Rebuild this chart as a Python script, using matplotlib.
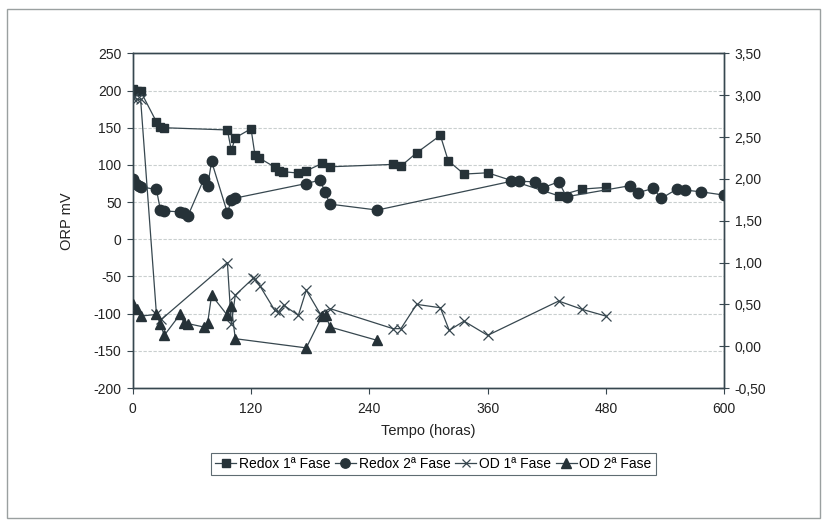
import matplotlib
matplotlib.use("Agg")
import matplotlib.pyplot as plt
from matplotlib.ticker import FuncFormatter
from matplotlib.patches import Rectangle

# ---- data ----
r1_t = [0, 4, 8, 24, 28, 32, 96, 100, 104, 120, 124, 128, 144, 148, 152, 168, 176, 192, 200,
        264, 272, 288, 312, 320, 336, 360, 432, 456, 480]
r1_v = [202, 200, 199, 158, 150.5, 150, 147, 119.5, 136.5, 148.6, 113, 109.6, 97, 92, 91, 89, 92, 102, 97.5,
        100.7, 98.4, 116.3, 139.7, 105.6, 87.7, 89.4, 58.5, 67.5, 69.8]

r2_t = [0, 3, 6, 8, 24, 28, 32, 48, 52, 56, 72, 76, 80, 96, 100, 104, 176, 190, 195, 200, 248,
        384, 392, 408, 416, 432, 440, 504, 512, 528, 536, 552, 560, 576, 600]
r2_v = [80.5, 73.8, 71.5, 70.6, 67, 40, 38, 37, 35.6, 31.6, 80.5, 72, 104.7, 35.6, 52.7, 55.4, 75, 79.6, 63.9, 47.3, 39.3,
        78, 78, 77.3, 69.3, 77.3, 57.2, 72, 62.6, 68.4, 55, 67.5, 66.2, 63.9, 59.4]

od1_t = [0, 4, 8, 24, 29, 96, 100, 104, 122, 124, 129, 144, 148, 153, 168, 176, 190, 200,
         264, 272, 288, 312, 321, 336, 360, 432, 456, 480]
od1_v = [2.97, 2.95, 2.95, 0.39, 0.32, 1.00, 0.26, 0.61, 0.81, 0.80, 0.72, 0.43, 0.41, 0.49, 0.37, 0.67, 0.39, 0.45,
         0.21, 0.21, 0.50, 0.46, 0.19, 0.30, 0.13, 0.54, 0.44, 0.36]

od2_t = [0, 4, 8, 24, 28, 32, 48, 52, 56, 72, 76, 80, 96, 100, 104, 176, 192, 196, 200, 248]
od2_v = [0.50, 0.45, 0.36, 0.38, 0.265, 0.13, 0.38, 0.28, 0.27, 0.23, 0.28, 0.61, 0.37, 0.48, 0.09, -0.02,
         0.36, 0.37, 0.23, 0.07]

x_ticks = [0, 120, 240, 360, 480, 600]
left_ticks = [250, 200, 150, 100, 50, 0, -50, -100, -150, -200]
right_ticks = [3.5, 3.0, 2.5, 2.0, 1.5, 1.0, 0.5, 0.0, -0.5]

labels = ["Redox 1ª Fase", "Redox 2ª Fase", "OD 1ª Fase", "OD 2ª Fase"]

# ---- style ----
plt.rcParams['font.family'] = ['Liberation Sans', 'DejaVu Sans']
plt.rcParams['axes.unicode_minus'] = False
dark = '#263238'
line_c = '#37474f'
fig = plt.figure(figsize=(8.27, 5.23), dpi=100)
ax = fig.add_axes([0.1605, 0.258, 0.7153, 0.640])
ax2 = ax.twinx()

ax.plot(r1_t, r1_v, color=line_c, lw=0.9, marker='s', ms=5.8, mfc=dark, mec=dark, label=labels[0], zorder=3)
ax.plot(r2_t, r2_v, color=line_c, lw=0.9, marker='o', ms=7.5, mfc=dark, mec=dark, label=labels[1], zorder=3)
ax2.plot(od1_t, od1_v, color=line_c, lw=0.9, marker='x', ms=7, mew=0.9, mec=line_c, label=labels[2], zorder=3)
ax2.plot(od2_t, od2_v, color=line_c, lw=0.9, marker='^', ms=7.5, mfc=dark, mec=dark, label=labels[3], zorder=3)

ax.set_xlim(0, 600)
ax.set_ylim(-200, 250)
ax2.set_ylim(-0.5, 3.5)
ax.set_xticks(x_ticks)
ax.set_yticks(left_ticks)
ax2.set_yticks(right_ticks)
ax2.yaxis.set_major_formatter(FuncFormatter(lambda v, p: f"{v:.2f}".replace('.', ',')))

for g in left_ticks[1:-1]:
    ax.axhline(g, color='#c9cfcf', lw=0.8, ls=(0, (3, 1.5)), zorder=0)

for a in (ax, ax2):
    for s in a.spines.values():
        s.set_color(line_c)
        s.set_linewidth(1.0)
ax.tick_params(axis='both', colors=line_c, labelcolor='#222222', labelsize=10, width=0.8)
ax.tick_params(axis='y', direction='out', length=4, pad=4)
ax.tick_params(axis='x', direction='out', length=4, pad=6)
ax2.tick_params(axis='y', direction='inout', length=7, colors=line_c, labelcolor='#222222', labelsize=10, width=0.8, pad=4)

ax.set_xlabel("Tempo (horas)", fontsize=10.5, color='#222222', labelpad=6)
ax.set_ylabel("ORP mV", fontsize=10.5, color='#222222', labelpad=14)

h1, l1 = ax.get_legend_handles_labels()
h2, l2 = ax2.get_legend_handles_labels()
leg = fig.legend(h1 + h2, l1 + l2, loc='center', bbox_to_anchor=(0.524, 0.113), ncol=4,
                 frameon=True, fancybox=False, edgecolor=line_c, handlelength=1.5, handletextpad=0.2,
                 columnspacing=0.35, borderpad=0.3, markerscale=0.9,
                 prop={'size': 10})
leg.get_frame().set_linewidth(0.8)

fig.patches.append(Rectangle((7 / 827, 5 / 523), 813 / 827, 509 / 523, transform=fig.transFigure,
                             fill=False, edgecolor='#9aa0a0', lw=1.0))

fig.savefig("out.png", dpi=100)
